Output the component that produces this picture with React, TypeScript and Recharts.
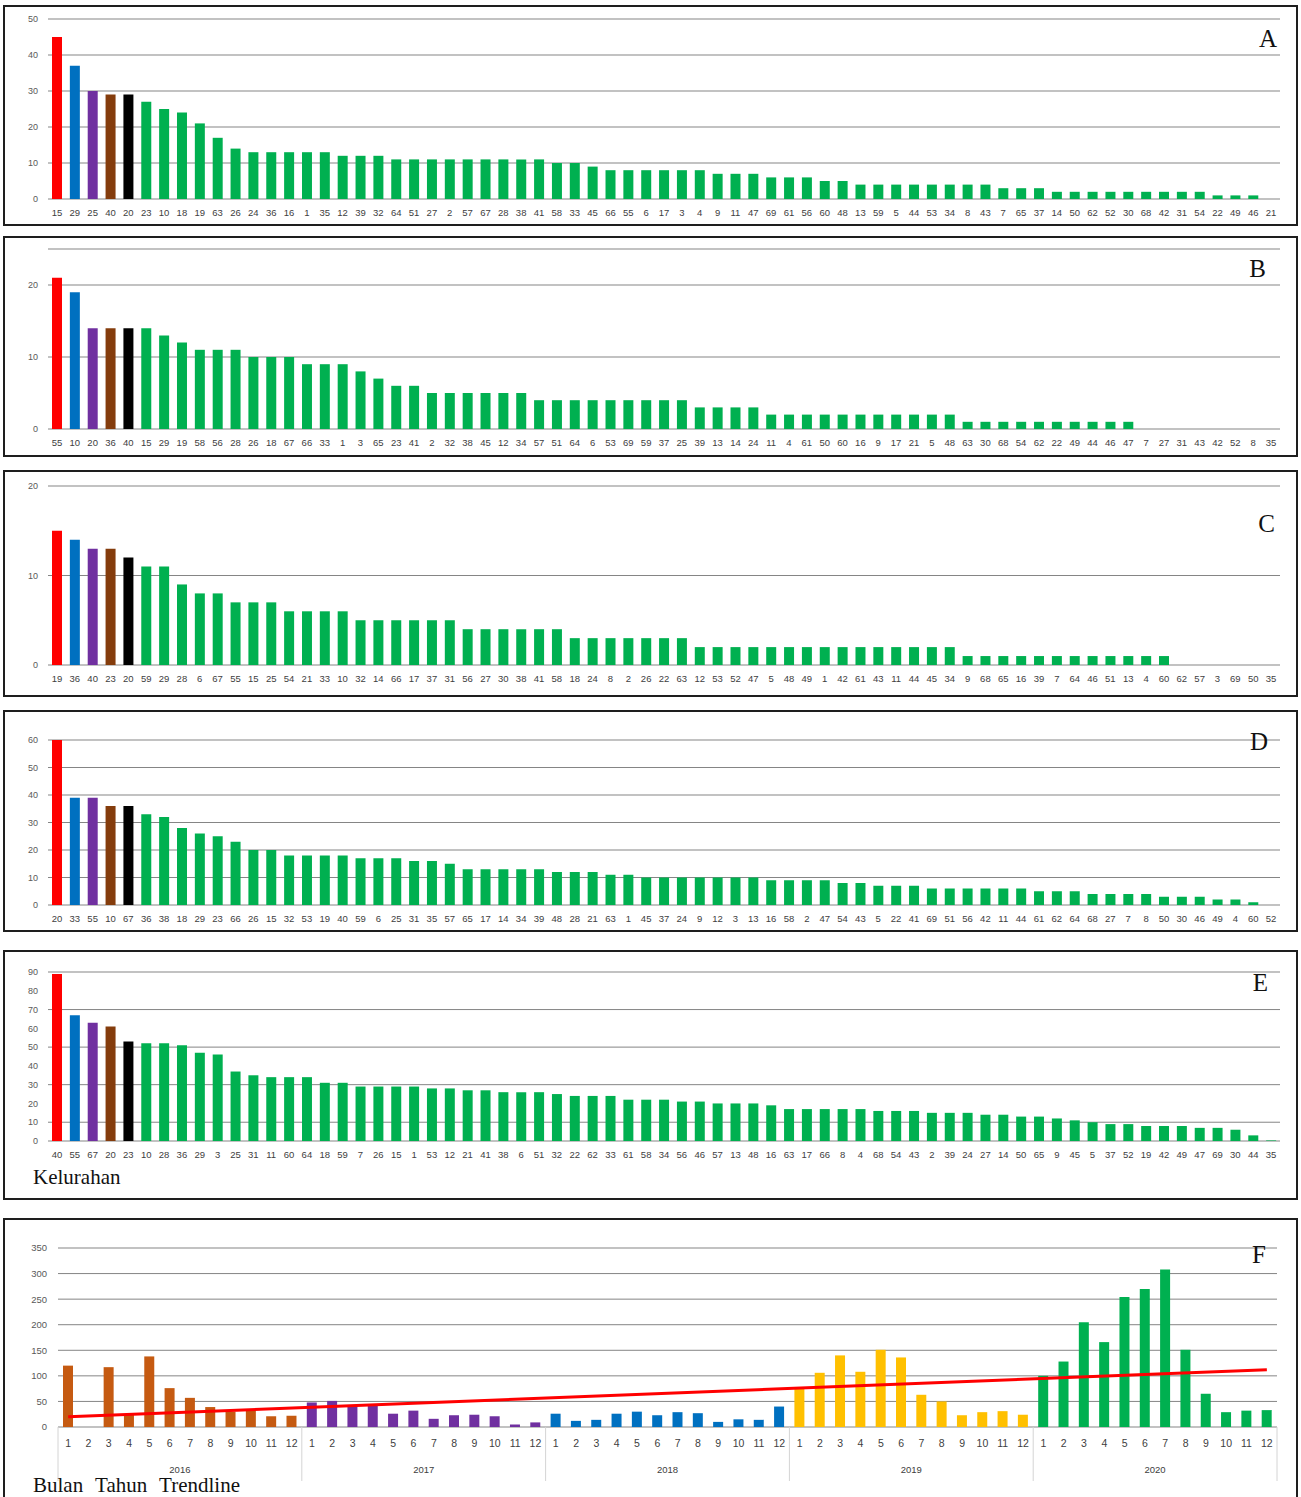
import {
  BarChart,
  Bar,
  Cell,
  XAxis,
  YAxis,
  CartesianGrid,
  ComposedChart,
  Line,
} from 'recharts';

// Kelurahan codes (x-axis) and case counts per panel, sorted high to low
const labelsA = ['15','29','25','40','20','23','10','18','19','63','26','24','36','16','1','35','12','39','32','64','51','27','2','57','67','28','38','41','58','33','45','66','55','6','17','3','4','9','11','47','69','61','56','60','48','13','59','5','44','53','34','8','43','7','65','37','14','50','62','52','30','68','42','31','54','22','49','46','21'];
const valuesA = [45,37,30,29,29,27,25,24,21,17,14,13,13,13,13,13,12,12,12,11,11,11,11,11,11,11,11,11,10,10,9,8,8,8,8,8,8,7,7,7,6,6,6,5,5,4,4,4,4,4,4,4,4,3,3,3,2,2,2,2,2,2,2,2,2,1,1,1,0];

const labelsB = ['55','10','20','36','40','15','29','19','58','56','28','26','18','67','66','33','1','3','65','23','41','2','32','38','45','12','34','57','51','64','6','53','69','59','37','25','39','13','14','24','11','4','61','50','60','16','9','17','21','5','48','63','30','68','54','62','22','49','44','46','47','7','27','31','43','42','52','8','35'];
const valuesB = [21,19,14,14,14,14,13,12,11,11,11,10,10,10,9,9,9,8,7,6,6,5,5,5,5,5,5,4,4,4,4,4,4,4,4,4,3,3,3,3,2,2,2,2,2,2,2,2,2,2,2,1,1,1,1,1,1,1,1,1,1,0,0,0,0,0,0,0,0];

const labelsC = ['19','36','40','23','20','59','29','28','6','67','55','15','25','54','21','33','10','32','14','66','17','37','31','56','27','30','38','41','58','18','24','8','2','26','22','63','12','53','52','47','5','48','49','1','42','61','43','11','44','45','34','9','68','65','16','39','7','64','46','51','13','4','60','62','57','3','69','50','35'];
const valuesC = [15,14,13,13,12,11,11,9,8,8,7,7,7,6,6,6,6,5,5,5,5,5,5,4,4,4,4,4,4,3,3,3,3,3,3,3,2,2,2,2,2,2,2,2,2,2,2,2,2,2,2,1,1,1,1,1,1,1,1,1,1,1,1,0,0,0,0,0,0];

const labelsD = ['20','33','55','10','67','36','38','18','29','23','66','26','15','32','53','19','40','59','6','25','31','35','57','65','17','14','34','39','48','28','21','63','1','45','37','24','9','12','3','13','16','58','2','47','54','43','5','22','41','69','51','56','42','11','44','61','62','64','68','27','7','8','50','30','46','49','4','60','52'];
const valuesD = [60,39,39,36,36,33,32,28,26,25,23,20,20,18,18,18,18,17,17,17,16,16,15,13,13,13,13,13,12,12,12,11,11,10,10,10,10,10,10,10,9,9,9,9,8,8,7,7,7,6,6,6,6,6,6,5,5,5,4,4,4,4,3,3,3,2,2,1,0];

const labelsE = ['40','55','67','20','23','10','28','36','29','3','25','31','11','60','64','18','59','7','26','15','1','53','12','21','41','38','6','51','32','22','62','33','61','58','34','56','46','57','13','48','16','63','17','66','8','4','68','54','43','2','39','24','27','14','50','65','9','45','5','37','52','19','42','49','47','69','30','44','35'];
const valuesE = [89,67,63,61,53,52,52,51,47,46,37,35,34,34,34,31,31,29,29,29,29,28,28,27,27,26,26,26,25,24,24,24,22,22,22,21,21,20,20,20,19,17,17,17,17,17,16,16,16,15,15,15,14,14,13,13,12,11,10,9,9,8,8,8,7,7,6,3,0.3];

// Monthly cases per year (panel F)
const months = ['1','2','3','4','5','6','7','8','9','10','11','12'];
const years = ['2016','2017','2018','2019','2020'];
const cases2016 = [120,0,117,25,138,76,57,39,30,34,21,22];
const cases2017 = [48,51,42,45,26,32,16,23,24,21,5,9];
const cases2018 = [26,12,14,26,30,23,29,27,10,15,14,40];
const cases2019 = [76,106,140,108,151,136,63,50,23,29,31,24];
const cases2020 = [100,128,205,166,254,270,308,151,65,29,32,33];
const trendStart = 20;
const trendEnd = 112;

const TOP_COLORS = ['#ff0000', '#0070c0', '#7030a0', '#843c0c', '#000000'];
const REST_COLOR = '#00b050';
const YEAR_COLORS = ['#c55a11', '#7030a0', '#0070c0', '#ffc000', '#00b050'];

const PANEL_W = 1295;
const CHART_W = PANEL_W - 4;
const GRID = '#858585';
const TICK_FONT = "'Liberation Sans', Arial, sans-serif";
const SERIF = "'Liberation Serif', 'DejaVu Serif', serif";

const yearSeries = [cases2016, cases2017, cases2018, cases2019, cases2020];
const monthlyData: any[] = years.flatMap((year, yi) =>
  months.map((month, mi) => ({
    key: `${year}-${month}`,
    month,
    year,
    yi,
    kasus: yearSeries[yi][mi],
    trend: null as number | null,
  }))
);
monthlyData[0].trend = trendStart;
monthlyData[monthlyData.length - 1].trend = trendEnd;

const F_LEFT = 53;
const F_RIGHT = 19;
const F_BAND = (CHART_W - F_LEFT - F_RIGHT) / monthlyData.length;

type RankProps = {
  top: number;
  height: number;
  plotTop: number;
  plotHeight: number;
  labels: string[];
  values: number[];
  max: number;
  ticks: number[];
  letter: string;
  letterRight: number;
  letterBaseline: number;
  footer?: string;
};

function PanelLetter({ text, right, baseline, top }: { text: string; right: number; baseline: number; top: number }) {
  return (
    <div
      style={{
        position: 'absolute',
        right: 1296 - right,
        top: baseline - top - 2 - 21,
        fontFamily: SERIF,
        fontSize: 25,
        lineHeight: '25px',
        color: '#111',
      }}
    >
      {text}
    </div>
  );
}

function FooterText({ text, top }: { text: string; top: number }) {
  return (
    <div
      style={{
        position: 'absolute',
        left: 28,
        top,
        fontFamily: SERIF,
        fontSize: 21,
        lineHeight: '20px',
        wordSpacing: 7,
        color: '#111',
        whiteSpace: 'nowrap',
      }}
    >
      {text}
    </div>
  );
}

function RankPanel(p: RankProps) {
  const data = p.labels.map((kode, i) => ({ kode, kasus: p.values[i] }));
  const chartH = p.height - 4;

  return (
    <div
      style={{
        position: 'absolute',
        left: 3,
        top: p.top,
        width: PANEL_W,
        height: p.height,
        border: '2px solid #1e1e1e',
        boxSizing: 'border-box',
        background: '#fff',
      }}
    >
      <BarChart
        width={CHART_W}
        height={chartH}
        data={data}
        margin={{ top: p.plotTop, right: 16, left: 0, bottom: chartH - p.plotTop - p.plotHeight - 22 }}
      >
        <CartesianGrid vertical={false} stroke={GRID} />
        <XAxis
          dataKey="kode"
          interval={0}
          height={22}
          tickLine={false}
          axisLine={false}
          tickMargin={4}
          tick={{ fontSize: 9.5, fill: '#404040', fontFamily: TICK_FONT }}
        />
        <YAxis
          domain={[0, p.max]}
          ticks={p.ticks}
          width={43}
          tickLine={false}
          axisLine={false}
          tickMargin={4}
          tick={{ fontSize: 9, fill: '#595959', fontFamily: TICK_FONT }}
        />
        <Bar dataKey="kasus" barSize={10} isAnimationActive={false}>
          {data.map((d, i) => (
            <Cell key={d.kode} fill={i < TOP_COLORS.length ? TOP_COLORS[i] : REST_COLOR} />
          ))}
        </Bar>
      </BarChart>
      <PanelLetter text={p.letter} right={p.letterRight} baseline={p.letterBaseline} top={p.top} />
      {p.footer && <FooterText text={p.footer} top={p.height - 35} />}
    </div>
  );
}

// month number under each bar, year name centred under each block, grey separators between years
function MonthYearTick(props: any) {
  const { x, y, index } = props;
  const row = monthlyData[index];
  if (!row) return null;
  const half = F_BAND / 2;
  const isLast = index === monthlyData.length - 1;
  return (
    <g>
      <text
        x={x}
        y={y + 16}
        textAnchor="middle"
        dominantBaseline="central"
        fontSize={10.5}
        fill="#404040"
        fontFamily={TICK_FONT}
      >
        {row.month}
      </text>
      {row.month === '1' && (
        <line x1={x - half} x2={x - half} y1={y} y2={y + 54} stroke="#d4d4d4" />
      )}
      {isLast && <line x1={x + half} x2={x + half} y1={y} y2={y + 54} stroke="#d4d4d4" />}
      {row.month === '6' && (
        <text
          x={x + half}
          y={y + 42}
          textAnchor="middle"
          dominantBaseline="central"
          fontSize={9.5}
          fill="#404040"
          fontFamily={TICK_FONT}
        >
          {row.year}
        </text>
      )}
    </g>
  );
}

function MonthlyPanel() {
  const top = 1218;
  const height = 282;
  const chartH = height - 4;
  const plotTop = 28;
  const plotHeight = 179;

  return (
    <div
      style={{
        position: 'absolute',
        left: 3,
        top,
        width: PANEL_W,
        height,
        border: '2px solid #1e1e1e',
        boxSizing: 'border-box',
        background: '#fff',
      }}
    >
      <ComposedChart
        width={CHART_W}
        height={chartH}
        data={monthlyData}
        margin={{ top: plotTop, right: F_RIGHT, left: 0, bottom: chartH - plotTop - plotHeight - 55 }}
      >
        <CartesianGrid vertical={false} stroke={GRID} />
        <XAxis
          dataKey="key"
          interval={0}
          height={55}
          tickLine={false}
          axisLine={false}
          tickSize={0}
          tickMargin={0}
          tick={<MonthYearTick />}
        />
        <YAxis
          domain={[0, 350]}
          ticks={[0, 50, 100, 150, 200, 250, 300, 350]}
          width={F_LEFT}
          tickLine={false}
          axisLine={false}
          tickMargin={5}
          tick={{ fontSize: 9.5, fill: '#595959', fontFamily: TICK_FONT }}
        />
        <Bar dataKey="kasus" barSize={10} isAnimationActive={false}>
          {monthlyData.map((d) => (
            <Cell key={d.key} fill={YEAR_COLORS[d.yi]} />
          ))}
        </Bar>
        <Line
          dataKey="trend"
          stroke="#ff0000"
          strokeWidth={3}
          dot={false}
          connectNulls
          isAnimationActive={false}
        />
      </ComposedChart>
      <PanelLetter text="F" right={1266} baseline={1263} top={top} />
      <FooterText text="Bulan Tahun Trendline" top={height - 27} />
    </div>
  );
}

export default function App() {
  return (
    <div style={{ position: 'relative', width: 1301, height: 1497, overflow: 'hidden', background: '#fff' }}>
      <style>{'body{margin:0;background:#fff}'}</style>
      <RankPanel
        top={5}
        height={221}
        plotTop={12}
        plotHeight={180}
        labels={labelsA}
        values={valuesA}
        max={50}
        ticks={[0, 10, 20, 30, 40, 50]}
        letter="A"
        letterRight={1277}
        letterBaseline={47}
      />
      <RankPanel
        top={236}
        height={221}
        plotTop={11}
        plotHeight={180}
        labels={labelsB}
        values={valuesB}
        max={25}
        ticks={[0, 10, 20]}
        letter="B"
        letterRight={1266}
        letterBaseline={277}
      />
      <RankPanel
        top={470}
        height={227}
        plotTop={14}
        plotHeight={179}
        labels={labelsC}
        values={valuesC}
        max={20}
        ticks={[0, 10, 20]}
        letter="C"
        letterRight={1275}
        letterBaseline={532}
      />
      <RankPanel
        top={710}
        height={222}
        plotTop={28}
        plotHeight={165}
        labels={labelsD}
        values={valuesD}
        max={60}
        ticks={[0, 10, 20, 30, 40, 50, 60]}
        letter="D"
        letterRight={1268}
        letterBaseline={750}
      />
      <RankPanel
        top={950}
        height={250}
        plotTop={20}
        plotHeight={169}
        labels={labelsE}
        values={valuesE}
        max={90}
        ticks={[0, 10, 20, 30, 40, 50, 60, 70, 80, 90]}
        letter="E"
        letterRight={1268}
        letterBaseline={991}
        footer="Kelurahan"
      />
      <MonthlyPanel />
    </div>
  );
}
